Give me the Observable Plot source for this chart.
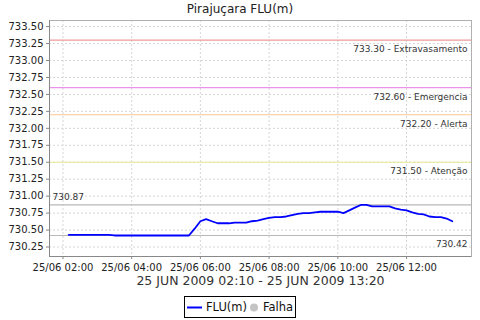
<!DOCTYPE html>
<html><head><meta charset="utf-8">
<script src="https://cdn.jsdelivr.net/npm/d3@7"></script>
<script src="https://cdn.jsdelivr.net/npm/@observablehq/plot@0.6"></script>
<style>
body{margin:0;background:#fff;font-family:"DejaVu Sans",sans-serif;width:480px;height:320px;position:relative;overflow:hidden;}
#title{position:absolute;left:0;top:2px;width:480px;text-align:center;font-size:12px;color:#222;}
#chart{position:absolute;left:0;top:18px;}
#legend{position:absolute;left:184px;top:296px;width:110px;height:20px;border:1px solid #000;font-size:11.5px;color:#111;}
#legend .it{position:absolute;top:0;height:20px;line-height:20px;}
</style>
</head><body>
<div id="title">Pirajuçara FLU(m)</div>
<div id="chart"></div>
<div id="legend">
  <svg class="it" style="left:2px" width="16" height="20"><line x1="0" y1="10.5" x2="15" y2="10.5" stroke="#0000ff" stroke-width="2"/></svg>
  <span class="it" style="left:21px">FLU(m)</span>
  <svg class="it" style="left:64px" width="10" height="20"><circle cx="5" cy="10.5" r="4" fill="#c4c4c4"/></svg>
  <span class="it" style="left:78px">Falha</span>
</div>
<script>
const times = ["02:10","02:20","02:30","02:40","02:50","03:00","03:10","03:20",
"03:30","03:40","03:50","04:00","04:10","04:20","04:30","04:40","04:50","05:00","05:10","05:20","05:30","05:40",
"05:50","06:00","06:10","06:20","06:30","06:40","06:50","07:00","07:10","07:20","07:30","07:40","07:50",
"08:00","08:10","08:20","08:30","08:40","08:50","09:00","09:10","09:20","09:30","09:40","09:50",
"10:00","10:10","10:20","10:30","10:40","10:50","11:00","11:10","11:20","11:30","11:40","11:50",
"12:00","12:10","12:20","12:30","12:40","12:50","13:00","13:10","13:20"];
const levels = [730.43,730.43,730.43,730.43,730.43,730.43,730.43,730.43,
730.42,730.42,730.42,730.42,730.42,730.42,730.42,730.42,730.42,730.42,730.42,730.42,730.42,730.42,
730.52,730.63,730.66,730.63,730.60,730.60,730.60,730.61,730.61,730.61,730.63,730.64,730.66,
730.68,730.69,730.69,730.70,730.72,730.74,730.75,730.75,730.76,730.77,730.77,730.77,
730.77,730.75,730.79,730.83,730.87,730.87,730.85,730.85,730.85,730.85,730.82,730.80,
730.79,730.76,730.74,730.73,730.70,730.69,730.69,730.67,730.63];
const markerValues = [733.30, 732.60, 732.20, 731.50];
const markerNames = ["Extravasamento", "Emergencia", "Alerta", "Atenção"];
const markerColors = ["#f09a9a", "#ea92ea", "#ffc890", "#eaea90"];
const maxValue = 730.87, minValue = 730.42;
const yTicks = [730.25,730.50,730.75,731.00,731.25,731.50,731.75,732.00,732.25,732.50,732.75,733.00,733.25,733.50];
const xTickTimes = ["02:00","04:00","06:00","08:00","10:00","12:00"];
const xDomainTimes = ["01:36:30","13:53:30"];
const yDomain = [730.11, 733.59];
const day = "2009-06-25";
const xLabel = "25 JUN 2009 02:10 - 25 JUN 2009 13:20";

const toDate = t => new Date(`${day}T${t.length === 5 ? t + ":00" : t}Z`);
const data = times.map((t, i) => ({date: toDate(t), value: levels[i]}));
const xTicks = xTickTimes.map(toDate);
const xDomain = xDomainTimes.map(toDate);
const markers = markerValues.map((v, i) => ({value: v, name: markerNames[i], color: markerColors[i]}));
const fmt = d3.utcFormat("%d/%m %H:%M");

const plot = Plot.plot({
  width: 480, height: 274,
  marginTop: 2, marginLeft: 49, marginRight: 9, marginBottom: 36,
  style: {fontFamily: "DejaVu Sans, sans-serif", fontSize: "10px", color: "#333", background: "#fff"},
  x: {type: "utc", domain: xDomain},
  y: {domain: yDomain},
  marks: [
    Plot.ruleY(yTicks, {stroke: "#d6d6d6", strokeDasharray: "2,2"}),
    Plot.ruleX(xTicks, {stroke: "#d6d6d6", strokeDasharray: "2,2"}),
    Plot.ruleY(markers, {y: "value", stroke: "color", strokeWidth: 1.2}),
    Plot.ruleY([maxValue, minValue], {stroke: "#b8b8b8", strokeWidth: 1.2}),
    Plot.frame({stroke: "#b0b0b0"}),
    Plot.ruleX([xDomain[0]], {stroke: "#888"}),
    Plot.ruleY([yDomain[0]], {stroke: "#888"}),
    Plot.axisY({ticks: yTicks, tickFormat: d => d.toFixed(2), tickSize: 3, tickPadding: 3, label: null, stroke: "#888", fill: "#222", fontSize: 10}),
    Plot.axisX({ticks: xTicks, tickFormat: fmt, tickSize: 3, tickPadding: 4, label: null, stroke: "#888", fill: "#222", fontSize: 10}),
    Plot.text([xLabel], {frameAnchor: "bottom", dy: 28, fontSize: 12.5, fill: "#333"}),
    Plot.line(data, {x: "date", y: "value", stroke: "#0000ff", strokeWidth: 1.8}),
    Plot.text(markers, {x: () => xDomain[1], y: "value", text: d => `${d.value.toFixed(2)} - ${d.name}`, textAnchor: "end", dx: -4, dy: 9, fontSize: 9, fill: "#333"}),
    Plot.text([maxValue], {x: () => xDomain[0], y: d => d, text: d => d.toFixed(2), textAnchor: "start", dx: 3, dy: -8, fontSize: 9, fill: "#333"}),
    Plot.text([minValue], {x: () => xDomain[1], y: d => d, text: d => d.toFixed(2), textAnchor: "end", dx: -4, dy: 9, fontSize: 9, fill: "#333"})
  ]
});
document.getElementById("chart").appendChild(plot);
</script>
</body></html>
